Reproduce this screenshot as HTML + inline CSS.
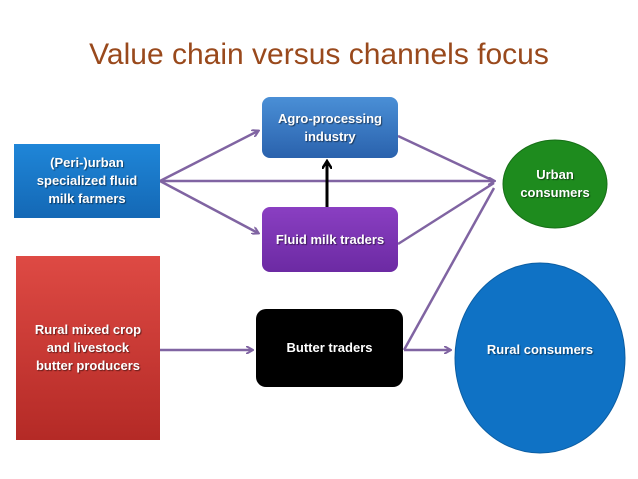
<!DOCTYPE html>
<html><head><style>
body{margin:0;width:638px;height:479px;background:#fff;position:relative;overflow:hidden;font-family:"Liberation Sans",sans-serif}
.t{position:absolute;left:0;width:638px;top:38px;text-align:center;font-size:30px;color:#99491c}
.b{position:absolute;display:flex;align-items:center;justify-content:center;text-align:center;color:#fff;font-weight:bold;font-size:13px;line-height:18px;text-shadow:1px 1px 1px rgba(0,0,0,.5);box-sizing:border-box}
</style></head><body>
<div class="t">Value chain versus channels focus</div>
<svg width="638" height="479" style="position:absolute;left:0;top:0">
<defs><marker id="a" markerWidth="8" markerHeight="8" refX="6" refY="4" orient="auto" markerUnits="userSpaceOnUse"><path d="M0,0 L7,4 L0,8" fill="none" stroke="#8064a2" stroke-width="2"/></marker>
<marker id="k" markerWidth="10" markerHeight="10" refX="7" refY="5" orient="auto" markerUnits="userSpaceOnUse"><path d="M0,0 L8,5 L0,10" fill="none" stroke="#000" stroke-width="2.5"/></marker></defs>
<g stroke="#8064a2" stroke-width="2.5" fill="none">
<line x1="160" y1="181" x2="258" y2="131" marker-end="url(#a)"/>
<line x1="160" y1="181" x2="494" y2="181" marker-end="url(#a)"/>
<line x1="160" y1="181" x2="258" y2="233" marker-end="url(#a)"/>
<line x1="398" y1="136" x2="494" y2="181"/>
<line x1="398" y1="244" x2="494" y2="183"/>
<line x1="404" y1="350" x2="494" y2="188"/>
<line x1="160" y1="350" x2="252" y2="350" marker-end="url(#a)"/>
<line x1="404" y1="350" x2="450" y2="350" marker-end="url(#a)"/>
</g>
<line x1="327" y1="207" x2="327" y2="162" stroke="#000" stroke-width="3" marker-end="url(#k)"/>
<ellipse cx="555" cy="184" rx="52" ry="44" fill="#1e8b1e" stroke="#176f17"/>
<ellipse cx="540" cy="358" rx="85" ry="95" fill="#0f72c5" stroke="#0c5ea3"/>
</svg>
<div class="b" style="left:14px;top:144px;width:146px;height:74px;background:linear-gradient(#1f86d8,#1468b5)">(Peri-)urban<br>specialized fluid<br>milk farmers</div>
<div class="b" style="left:16px;top:256px;width:144px;height:184px;background:linear-gradient(#de4a44,#b42a26)">Rural mixed crop<br>and livestock<br>butter producers</div>
<div class="b" style="left:262px;top:97px;width:136px;height:61px;border-radius:8px;background:linear-gradient(#4a8fd6,#2a62ad)">Agro-processing<br>industry</div>
<div class="b" style="left:262px;top:207px;width:136px;height:65px;border-radius:8px;background:linear-gradient(#8a3fc2,#6c2aa3)">Fluid milk traders</div>
<div class="b" style="left:256px;top:309px;width:147px;height:78px;border-radius:10px;background:#000">Butter traders</div>
<div class="b" style="left:503px;top:158px;width:104px;height:52px">Urban<br>consumers</div>
<div class="b" style="left:455px;top:340px;width:170px;height:20px">Rural consumers</div>
</body></html>
